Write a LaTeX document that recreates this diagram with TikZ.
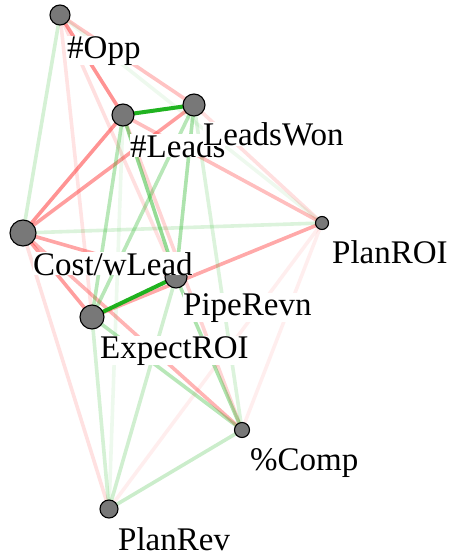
\documentclass[tikz,border=0pt]{standalone}
\usepackage{fontspec}
\setmainfont{Liberation Serif}
\usepackage{tikz}
\usetikzlibrary{positioning}

\definecolor{posgreen}{RGB}{20,175,20}
\definecolor{negred}{RGB}{255,40,40}
\definecolor{nodegray}{gray}{0.47}

\pgfdeclarelayer{edges}
\pgfsetlayers{edges,main}

\begin{document}
\begin{tikzpicture}[x=1pt, y=-1pt,
	vertex/.style={circle, draw=black, line width=1.1pt, fill=nodegray, inner sep=0pt},
	lbl/.style={anchor=base west, fill=white, inner sep=0pt, font=\fontsize{33}{33}\selectfont},
	posedge/.style={posgreen, line width=3.6pt},
	negedge/.style={negred, line width=3.6pt}]

\useasboundingbox (0,0) rectangle (452,557);

% vertices (size ~ importance)
\node[vertex, minimum size=20pt] (opp)     at (60 , 15 ) {};
\node[vertex, minimum size=22pt] (leads)   at (123, 115) {};
\node[vertex, minimum size=22pt] (won)     at (194, 105) {};
\node[vertex, minimum size=26pt] (cost)    at (23 , 233) {};
\node[vertex, minimum size=13pt] (planroi) at (322, 223) {};
\node[vertex, minimum size=22pt] (pipe)    at (176, 277) {};
\node[vertex, minimum size=24pt] (expect)  at (92 , 317) {};
\node[vertex, minimum size=15pt] (comp)    at (242, 430) {};
\node[vertex, minimum size=18pt] (planrev) at (109, 509) {};

\begin{pgfonlayer}{edges}
% negative correlations
\foreach \a/\b/\w in {planroi/comp/0.08, planroi/planrev/0.08, opp/expect/0.13, opp/pipe/0.15,
		cost/planrev/0.14, won/planroi/0.15, leads/comp/0.2, opp/won/0.28, leads/planroi/0.3,
		cost/comp/0.35, planroi/expect/0.4, cost/pipe/0.42, cost/expect/0.45,
		cost/won/0.45, cost/leads/0.5, opp/leads/0.5} {
	\draw[negedge, opacity=\w] (\a.center) -- (\b.center);
}
% positive correlations
\foreach \a/\b/\w in {leads/planrev/0.08, opp/planroi/0.07, won/comp/0.15, opp/cost/0.18,
		cost/planroi/0.15, expect/planrev/0.18, pipe/planrev/0.2, comp/planrev/0.22,
		expect/comp/0.3, leads/expect/0.3, won/expect/0.3, won/pipe/0.35,
		pipe/comp/0.35, leads/pipe/0.45} {
	\draw[posedge, opacity=\w] (\a.center) -- (\b.center);
}
\draw[posedge, line width=4pt, opacity=0.95] (leads.center) -- (won.center);
\draw[posedge, line width=4pt, opacity=0.95] (expect.center) -- (pipe.center);
\end{pgfonlayer}

% labels
\node[lbl] (opp-l)     at (67 , 58 ) {\#Opp};
\node[lbl] (leads-l)   at (130, 157) {\#Leads};
\node[lbl] (won-l)     at (203, 145) {LeadsWon};
\node[lbl] (planroi-l) at (332, 263) {PlanROI};
\node[lbl] (cost-l)    at (33 , 275) {Cost/wLead};
\node[lbl] (pipe-l)    at (183, 315) {PipeRevn};
\node[lbl] (expect-l)  at (100, 358) {ExpectROI};
\node[lbl] (comp-l)    at (250, 470) {\%Comp};
\node[lbl] (planrev-l) at (118, 550) {PlanRev};

\end{tikzpicture}
\end{document}
